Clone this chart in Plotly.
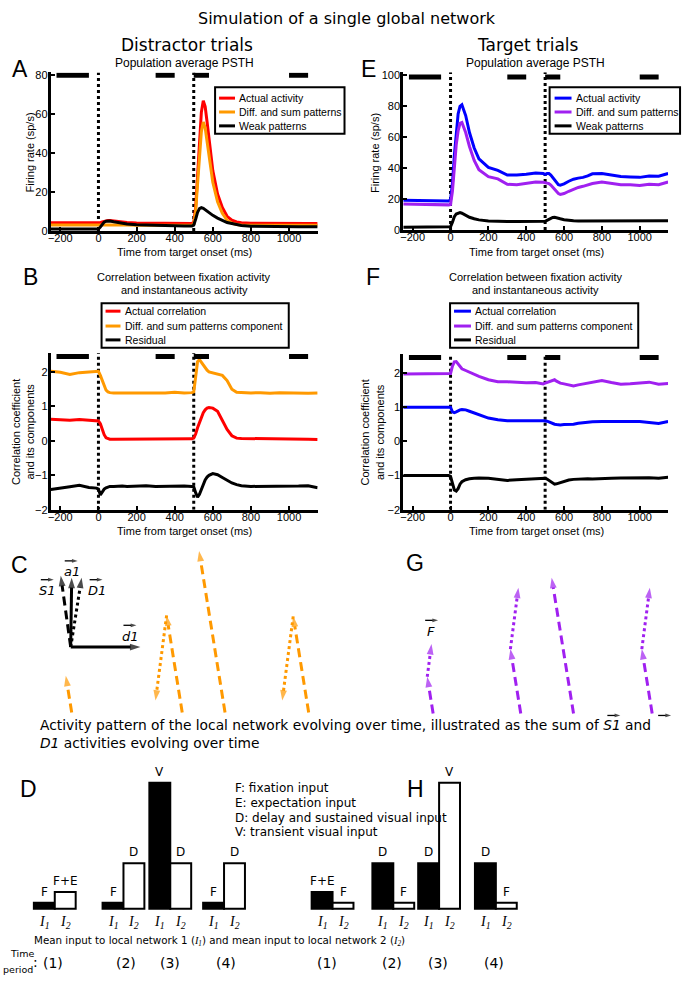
import plotly.graph_objects as go

W, H = 691, 989
def fx(x): return x / W
def fy(y): return 1 - y / H

# ---------------- data ----------------
t = [-250, -200, -150, -100, -50, -10, 0, 10, 20, 30, 40, 50, 60, 80, 100,
     125, 150, 200, 250, 300, 350, 400, 450, 490,
     500, 510, 520, 530, 540, 550, 560, 570, 580,
     600, 625, 650, 675, 700, 725, 750,
     800, 850, 900, 950, 1000, 1050, 1100, 1150]

# Panel A (distractor PSTH)
A_actual = [4.2, 4.2, 4.1, 4.1, 4.1, 4.1, 4.1, 4.2, 4.6, 5.0, 5.3, 5.4, 5.3, 5.0, 4.7,
            4.5, 4.3, 4.1, 4.0, 3.9, 3.9, 3.8, 3.8, 3.8,
            4.5, 12, 28, 47, 61, 67, 64, 56, 47,
            31, 19, 12, 7.5, 5.5, 4.6, 4.2,
            4.0, 3.9, 3.9, 3.8, 3.8, 3.8, 3.8, 3.8]
A_diffsum = [3.0, 3.0, 3.0, 3.0, 3.0, 3.0, 3.0, 3.0, 3.1, 3.2, 3.3, 3.3, 3.3, 3.2, 3.1,
             3.0, 3.0, 2.9, 2.9, 2.9, 2.9, 2.9, 2.9, 2.9,
             3.5, 10, 24, 40, 51, 56, 53, 46, 38,
             25, 15, 9, 5.5, 4.0, 3.3, 3.0,
             2.9, 2.9, 2.9, 2.9, 2.9, 2.9, 2.9, 2.9]
A_weak = [1.0, 1.0, 1.0, 1.0, 1.0, 1.0, 1.0, 2.0, 3.5, 4.5, 5.0, 5.2, 5.1, 4.7, 4.3,
          3.9, 3.6, 3.2, 3.0, 2.8, 2.7, 2.6, 2.5, 2.5,
          3.0, 6.0, 9.5, 11.5, 12.0, 11.6, 10.8, 10.0, 9.3,
          8.0, 6.6, 5.3, 4.3, 3.8, 3.2, 2.8,
          2.4, 2.3, 2.2, 2.2, 2.2, 2.2, 2.2, 2.2]

# Panel E (target PSTH)
E_actual = [19.2, 19.0, 18.8, 18.8, 18.7, 18.7, 19.5, 30, 48, 64, 75, 80, 81, 74, 63,
            53, 46, 40.5, 38.5, 35.5, 35.5, 36, 36.8, 36.5,
            36, 36.5, 36.5, 35.5, 34, 32, 30.5, 29.3, 29,
            29.8, 31.5, 32.8, 33.5, 34, 35, 36.3,
            36.5, 35.3, 34.5, 34.2, 34, 34.8, 34.7, 36.5]
E_diffsum = [16.8, 16.6, 16.4, 16.3, 16.2, 16.2, 16.5, 25, 40, 55, 64, 69, 69.5, 63, 54,
             45, 39, 34.5, 33, 29.5, 29.3, 30.3, 31, 30.8,
             30.5, 30.5, 30, 29, 27.5, 26, 24.5, 23.5, 23,
             23.5, 25, 26.5, 27.5, 28.2, 29, 30,
             31, 30, 29.3, 29.3, 28.8, 29.5, 29.2, 31]
E_weak = [1.8, 1.8, 1.8, 1.8, 1.8, 1.8, 2.0, 5.0, 8.5, 10.3, 11.0, 11.2, 10.8, 9.5, 8.2,
          7.2, 6.5, 5.8, 5.5, 5.4, 5.4, 5.4, 5.4, 5.4,
          5.6, 6.2, 7.0, 7.7, 8.1, 8.2, 8.0, 7.6, 7.2,
          6.6, 6.1, 5.9, 5.8, 5.8, 5.8, 5.8,
          5.7, 5.8, 5.7, 5.8, 5.7, 5.8, 5.8, 5.9]

# Panel B (distractor correlation)
B_actual = [0.63, 0.62, 0.60, 0.62, 0.60, 0.60, 0.58, 0.50, 0.33, 0.18, 0.09, 0.06, 0.05, 0.05, 0.05,
            0.06, 0.05, 0.05, 0.06, 0.05, 0.06, 0.06, 0.06, 0.06,
            0.08, 0.20, 0.38, 0.55, 0.70, 0.82, 0.90, 0.95, 0.97,
            0.95, 0.86, 0.60, 0.33, 0.15, 0.08, 0.07,
            0.07, 0.07, 0.06, 0.06, 0.05, 0.05, 0.05, 0.04]
B_diffsum = [2.02, 1.99, 1.93, 1.98, 2.00, 2.02, 2.02, 1.90, 1.75, 1.60, 1.47, 1.42, 1.40, 1.39, 1.39,
             1.38, 1.39, 1.39, 1.38, 1.40, 1.39, 1.41, 1.39, 1.40,
             1.42, 1.85, 2.30, 2.36, 2.28, 2.18, 2.10, 2.05, 2.00,
             1.97, 1.95, 1.90, 1.75, 1.50, 1.41, 1.40,
             1.39, 1.40, 1.38, 1.40, 1.39, 1.40, 1.38, 1.39]
B_resid = [-1.41, -1.38, -1.33, -1.29, -1.35, -1.37, -1.40, -1.57, -1.48, -1.40, -1.36, -1.33, -1.32, -1.32, -1.31,
           -1.31, -1.32, -1.31, -1.30, -1.32, -1.31, -1.30, -1.31, -1.32,
           -1.33, -1.50, -1.63, -1.55, -1.40, -1.25, -1.13, -1.05, -1.00,
           -0.95, -0.98, -1.06, -1.15, -1.22, -1.27, -1.30,
           -1.32, -1.32, -1.33, -1.32, -1.33, -1.31, -1.30, -1.36]

# Panel F (target correlation)
F_actual = [1.00, 1.00, 1.00, 1.00, 1.00, 1.00, 1.00, 0.86, 0.84, 0.86, 0.90, 0.92, 0.93, 0.92, 0.88,
            0.83, 0.78, 0.68, 0.63, 0.60, 0.60, 0.61, 0.60, 0.60,
            0.60, 0.59, 0.57, 0.54, 0.52, 0.50, 0.49, 0.48, 0.48,
            0.49, 0.49, 0.50, 0.53, 0.55, 0.56, 0.57,
            0.58, 0.58, 0.57, 0.58, 0.58, 0.55, 0.52, 0.58]
F_diffsum = [1.97, 1.97, 1.98, 1.97, 1.96, 1.97, 1.98, 2.20, 2.32, 2.33, 2.25, 2.18, 2.12, 2.07, 2.02,
             1.95, 1.90, 1.80, 1.74, 1.74, 1.72, 1.71, 1.72, 1.68,
             1.70, 1.72, 1.74, 1.76, 1.79, 1.80, 1.76, 1.73, 1.70,
             1.68, 1.64, 1.62, 1.65, 1.68, 1.70, 1.72,
             1.78, 1.72, 1.67, 1.68, 1.71, 1.73, 1.67, 1.69]
F_resid = [-1.00, -1.00, -1.00, -0.99, -1.00, -1.00, -1.02, -1.20, -1.42, -1.45, -1.38, -1.25, -1.18, -1.12, -1.09,
           -1.08, -1.07, -1.08, -1.10, -1.14, -1.12, -1.10, -1.08, -1.07,
           -1.08, -1.10, -1.14, -1.19, -1.23, -1.25, -1.24, -1.22, -1.20,
           -1.16, -1.13, -1.11, -1.10, -1.10, -1.09, -1.10,
           -1.10, -1.08, -1.07, -1.06, -1.05, -1.06, -1.08, -1.05]

# analysis epochs (black bars) and event times (dotted lines)
epoch_start = [-220, 300, 500, 1000]
epoch_end = [-50, 400, 580, 1100]
event_times = [0, 500]

time_ticks = [-200, 0, 200, 400, 600, 800, 1000]
psth_ticks_A = [0, 20, 40, 60, 80]
psth_ticks_E = [0, 20, 40, 60, 80, 100]
corr_ticks = [-2, -1, 0, 1, 2]

legend_psth = ["Actual activity", "Diff. and sum patterns", "Weak patterns"]
legend_corr = ["Actual correlation", "Diff. and sum patterns component", "Residual"]

# Panels C/G: S1 and D1 components per time period (arbitrary units)
C_S1 = [0.37, 0.98, 1.63, 0.97]
C_D1 = [0.0, -0.86, 0.0, -0.85]
G_S1 = [0.37, 0.65, 1.37, 0.65]
G_D1 = [0.33, 0.62, 0.0, 0.62]

# Panels D/H: mean input (arbitrary units) to local network 1 and 2
IN_F, IN_FE, IN_D, IN_V = 1.0, 2.8, 7.6, 21.0
D_I1 = [IN_F, IN_F, IN_V, IN_F]
D_I2 = [IN_FE, IN_D, IN_D, IN_D]
D_I1_lab = ["F", "F", "V", "F"]
D_I2_lab = ["F+E", "D", "D", "D"]
H_I1 = [IN_FE, IN_D, IN_D, IN_D]
H_I2 = [IN_F, IN_F, IN_V, IN_F]
H_I1_lab = ["F+E", "D", "D", "D"]
H_I2_lab = ["F", "F", "V", "F"]
periods = ["(1)", "(2)", "(3)", "(4)"]

# ---------------- styling ----------------
RED = "#FF0000"
ORANGE = "#FF9900"
BLUE = "#0000FF"
PURPLE = "#A020F0"
SANS = "Liberation Sans"
VERD = "DejaVu Sans"

fig = go.Figure()

def line(xa, ya, x, y, color, width=3, dash=None):
    fig.add_trace(go.Scatter(x=x, y=y, mode="lines", xaxis=xa, yaxis=ya,
                             line=dict(color=color, width=width, dash=dash),
                             showlegend=False, hoverinfo="skip"))

def epochs(xa, ya, level):
    xs, ys = [], []
    for s, e in zip(epoch_start, epoch_end):
        xs += [s, e, None]
        ys += [level, level, None]
    line(xa, ya, xs, ys, "black", width=5)

def events(xa, ya, lo, hi):
    xs, ys = [], []
    for ev in event_times:
        xs += [ev, ev, None]
        ys += [lo, hi, None]
    line(xa, ya, xs, ys, "black", width=3, dash="dot")

# A
events("x", "y", 0, 81.5)
line("x", "y", t, A_actual, RED)
line("x", "y", t, A_diffsum, ORANGE)
line("x", "y", t, A_weak, "black")
epochs("x", "y", 80)
# E
events("x2", "y2", 0, 102)
line("x2", "y2", t, E_actual, BLUE)
line("x2", "y2", t, E_diffsum, PURPLE)
line("x2", "y2", t, E_weak, "black")
epochs("x2", "y2", 99)
# B
events("x3", "y3", -2, 2.55)
line("x3", "y3", t, B_diffsum, ORANGE)
line("x3", "y3", t, B_actual, RED)
line("x3", "y3", t, B_resid, "black")
epochs("x3", "y3", 2.45)
# F
events("x4", "y4", -2, 2.55)
line("x4", "y4", t, F_diffsum, PURPLE)
line("x4", "y4", t, F_actual, BLUE)
line("x4", "y4", t, F_resid, "black")
epochs("x4", "y4", 2.45)

# ---------------- arrows (C, G) on a pixel-like overlay axis ----------------
def arrow(x0, y0, x1, y1, color, dash=None, width=3, head=11):
    fig.add_trace(go.Scatter(x=[x0, x1], y=[y0, y1], mode="lines+markers", xaxis="x5", yaxis="y5",
                             line=dict(color=color, width=width, dash=dash),
                             marker=dict(symbol="arrow", size=[0, head], angleref="previous",
                                         color=color, line=dict(width=0)),
                             showlegend=False, hoverinfo="skip"))

DASH = "9px,5px"
S_SLOPE, D_SLOPE, SCALE = 0.16, 0.13, 100.0
def composite(x0, y0, s, d, color):
    xs, ys = x0 - S_SLOPE * s * SCALE, y0 - s * SCALE
    arrow(x0, y0, xs, ys, color, DASH)
    if d != 0:
        arrow(xs, ys, xs + D_SLOPE * d * SCALE, ys - d * SCALE, color, "dot")

C_pos = [69, 180, 223, 307]
G_pos = [432, 520, 573, 652]
for p, s, d in zip(C_pos, C_S1, C_D1):
    composite(p, 716, s, d, ORANGE)
for p, s, d in zip(G_pos, G_S1, G_D1):
    composite(p, 717, s, d, PURPLE)

# basis vectors in C
ox, oy = 68, 650
arrow(ox, oy, ox + 70, oy, "black")
arrow(ox, oy, ox + 1, oy - 70, "black")
arrow(ox, oy, ox - 10, oy - 72, "black", DASH)
arrow(ox, oy, ox + 11, oy - 70, "black", "dot")

# small vector-notation arrows above symbol names
for cx, cy in ((69, 563), (45, 582), (94, 582), (128, 628), (431, 623), (614, 719), (665, 719)):
    arrow(cx - 7, cy, cx + 6, cy, "black", width=1.3, head=6)

# ---------------- bars (D, H) ----------------
BW = 21
D_groups = [52, 121, 168, 222]
H_groups = [331, 392, 438, 495]
ann = []
def bars(groups, vals1, vals2, lab1, lab2):
    x1 = [g - BW / 2 for g in groups]
    x2 = [g + BW / 2 for g in groups]
    fig.add_trace(go.Bar(x=x1, y=vals1, width=BW, xaxis="x6", yaxis="y6",
                         marker=dict(color="black", line=dict(color="black", width=2)),
                         showlegend=False, hoverinfo="skip"))
    fig.add_trace(go.Bar(x=x2, y=vals2, width=BW, xaxis="x6", yaxis="y6",
                         marker=dict(color="white", line=dict(color="black", width=2)),
                         showlegend=False, hoverinfo="skip"))
    for xs, vs, ls, sub in ((x1, vals1, lab1, "1"), (x2, vals2, lab2, "2")):
        for xv, v, lb in zip(xs, vs, ls):
            ann.append(dict(x=xv, y=v, xref="x6", yref="y6", text=lb, showarrow=False,
                            yanchor="bottom", yshift=2, font=dict(family=VERD, size=12, color="black")))
            ann.append(dict(x=xv, y=0, xref="x6", yref="y6", text="<i>I<sub>%s</sub></i>" % sub,
                            showarrow=False, yanchor="top", yshift=-3,
                            font=dict(family="Liberation Serif", size=14, color="black")))
bars(D_groups, D_I1, D_I2, D_I1_lab, D_I2_lab)
bars(H_groups, H_I1, H_I2, H_I1_lab, H_I2_lab)

# ---------------- axes ----------------
def tax(l, r, anchor):
    return dict(domain=[fx(l), fx(r)], range=[-250, 1150], tickvals=time_ticks, anchor=anchor,
                showline=True, linewidth=3, linecolor="black", ticks="inside", ticklen=4,
                tickwidth=1.5, tickcolor="black", showgrid=False, zeroline=False,
                ticklabelstandoff=-5,
                tickfont=dict(family=SANS, size=11, color="black"))

def yax(bot, top, rng, ticks, anchor):
    return dict(domain=[fy(bot), fy(top)], range=rng, tickvals=ticks, anchor=anchor,
                showline=True, linewidth=3, linecolor="black", ticks="inside", ticklen=4,
                tickwidth=1.5, tickcolor="black", showgrid=False, zeroline=False,
                ticklabelstandoff=-2,
                tickfont=dict(family=SANS, size=11, color="black"))

hidden = dict(visible=False, showgrid=False, zeroline=False)

fig.update_layout(
    width=W, height=H, margin=dict(l=0, r=0, t=0, b=0),
    paper_bgcolor="white", plot_bgcolor="rgba(0,0,0,0)",
    barmode="overlay", showlegend=False,
    xaxis=tax(48, 316, "y"), yaxis=yax(230, 70.06, [0, 81.5], psth_ticks_A, "x"),
    xaxis2=tax(402, 668, "y2"), yaxis2=yax(229, 69.9, [0, 102], psth_ticks_E, "x2"),
    xaxis3=tax(48, 316, "y3"), yaxis3=yax(511.5, 353.2, [-2, 2.55], corr_ticks, "x3"),
    xaxis4=tax(402, 668, "y4"), yaxis4=yax(511.5, 354.3, [-2, 2.55], corr_ticks, "x4"),
    xaxis5=dict(domain=[0, 1], range=[0, W], anchor="y5", **hidden),
    yaxis5=dict(domain=[0, 1], range=[H, 0], anchor="x5", **hidden),
    xaxis6=dict(domain=[0, 1], range=[0, W], anchor="y6", **hidden),
    yaxis6=dict(domain=[fy(915.5), fy(784.9)], range=[-0.25, 21.35], anchor="x6", **hidden),
)

# ---------------- legends (drawn) ----------------
shapes = []
def legend(x0, y0, x1, y1, lx0, lx1, tx, ys, colors, names):
    shapes.append(dict(type="rect", xref="paper", yref="paper", x0=fx(x0), x1=fx(x1), y0=fy(y1), y1=fy(y0),
                       line=dict(color="black", width=2), fillcolor="white", layer="above"))
    for yy, c, n in zip(ys, colors, names):
        shapes.append(dict(type="line", xref="paper", yref="paper", x0=fx(lx0), x1=fx(lx1), y0=fy(yy), y1=fy(yy),
                           line=dict(color=c, width=3), layer="above"))
        ann.append(dict(x=fx(tx), y=fy(yy), xref="paper", yref="paper", text=n, showarrow=False,
                        xanchor="left", yanchor="middle", font=dict(family=SANS, size=10.5, color="black")))

legend(213, 85, 343, 132, 217, 233, 235, [96, 110, 124], [RED, ORANGE, "black"], legend_psth)
legend(549, 85, 680, 132, 554, 571, 573, [96, 110, 124], [BLUE, PURPLE, "black"], legend_psth)
legend(99, 303, 287, 348, 103, 118, 121, [311, 326, 340], [RED, ORANGE, "black"], legend_corr)
legend(449, 303, 638, 348, 453, 470, 472, [311, 326, 340], [BLUE, PURPLE, "black"], legend_corr)

# ---------------- text ----------------
def txt(x, y, s, size=12, family=VERD, xa="center", ya="middle", angle=0):
    ann.append(dict(x=fx(x), y=fy(y), xref="paper", yref="paper", text=s, showarrow=False,
                    xanchor=xa, yanchor=ya, textangle=angle, font=dict(family=family, size=size, color="black")))

txt(345, 16, "Simulation of a single global network", 16)
txt(185, 42, "Distractor trials", 17)
txt(527, 42, "Target trials", 17)
txt(182, 61, "Population average PSTH", 12, SANS)
txt(535, 61, "Population average PSTH", 12, SANS)
for xx in (182, 535):
    txt(xx, 277, "Correlation between fixation activity", 11, SANS)
    txt(xx, 290, "and instantaneous activity", 11, SANS)
for xx in (182, 536):
    txt(xx, 251, "Time from target onset (ms)", 11, SANS)
    txt(xx, 533, "Time from target onset (ms)", 11, SANS)
txt(27, 151, "Firing rate (sp/s)", 11, SANS, angle=-90)
txt(373, 151, "Firing rate (sp/s)", 11, SANS, angle=-90)
txt(20, 433, "Correlation coefficient<br>and its components", 11, SANS, angle=-90)
txt(371, 433, "Correlation coefficient<br>and its components", 11, SANS, angle=-90)

for L, x, y in (("A", 17, 67), ("E", 367, 67), ("B", 28, 277), ("F", 372, 277),
                ("C", 17, 567), ("G", 414, 565), ("D", 26, 793), ("H", 414, 793)):
    txt(x, y, L, 23, SANS)

# vector labels
for s, x, y in (("<i>a1</i>", 69, 574), ("<i>S1</i>", 45, 593), ("<i>D1</i>", 94, 593),
                ("<i>d1</i>", 128, 639), ("<i>F</i>", 430, 634)):
    txt(x, y, s, 13)

txt(35, 729, "Activity pattern of the local network evolving over time, illustrated as the sum of <i>S1</i> and", 13.8, xa="left")
txt(35, 747, "<i>D1</i> activities evolving over time", 13.8, xa="left")

for i, s in enumerate(["F: fixation input", "E: expectation input",
                       "D: delay and sustained visual input", "V: transient visual input"]):
    txt(231, 792 + 15 * i, s, 12, xa="left")

txt(29, 947, "Mean input to local network 1 (<span style=\"font-family:Liberation Serif\"><i>I<sub>1</sub></i></span>) "
    "and mean input to local network 2 (<span style=\"font-family:Liberation Serif\"><i>I<sub>2</sub></i></span>)",
    10.3, xa="left")
txt(19, 959, "Time", 9.5)
txt(15, 975, "period", 9.5)
txt(33, 968, ":", 14)
for xx, p in zip([50, 124, 168, 224], periods):
    txt(xx, 969, p, 14)
for xx, p in zip([325, 391, 437, 493], periods):
    txt(xx, 969, p, 14)

fig.update_layout(annotations=ann, shapes=shapes)
fig.write_html("out.html", config={"displayModeBar": False},
               post_script="document.body.style.margin='0px';document.body.style.overflow='hidden';")
